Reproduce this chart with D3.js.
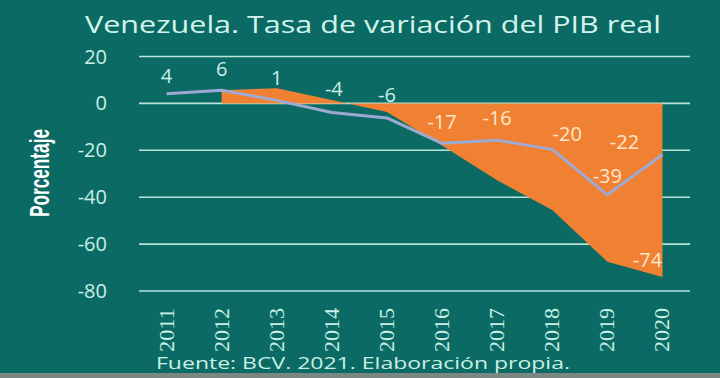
<!DOCTYPE html>
<html><head><meta charset="utf-8">
<script src="https://cdn.jsdelivr.net/npm/d3@7"></script>
<style>
html,body{margin:0;padding:0;background:#0b6b64;}
svg{display:block;}
</style></head>
<body>
<svg id="chart" width="720" height="378"></svg>
<script>
const years = ["2011","2012","2013","2014","2015","2016","2017","2018","2019","2020"];
const pibGrowth = [4.1, 5.6, 1.3, -3.9, -6.2, -17.0, -15.7, -19.6, -39.0, -21.8];
const growthLabels = ["4","6","1","-4","-6","-17","-16","-20","-39","-22"];
const areaYears = ["2012","2013","2014","2015","2016","2017","2018","2019","2020"];
const areaValues = [5.6, 6.5, 1.5, -3.7, -17.9, -32.8, -45.5, -67.5, -74.0];
const areaLabel = "-74";
const yTicks = [20, 0, -20, -40, -60, -80];

const svg = d3.select("#chart");
const W = 720, H = 378;
const bg = "#0b6b64", mint = "#c9efe6", orange = "#f08132", lineC = "#9eaad2";

svg.append("rect").attr("width", W).attr("height", H).attr("fill", bg);
svg.append("rect").attr("x", 0).attr("y", 373).attr("width", W).attr("height", 5).attr("fill", "#7b8785");

const x = d3.scaleBand().domain(years).range([139, 690]);
const y = d3.scaleLinear().domain([-80, 20]).range([291, 56.5]);
const cx = d => x(d) + x.bandwidth() / 2;

// gridlines
svg.append("g").selectAll("line").data(yTicks).join("line")
  .attr("x1", 139).attr("x2", 690)
  .attr("y1", d => y(d)).attr("y2", d => y(d))
  .attr("stroke", "#b9e3db").attr("stroke-width", 1.6);

// y tick labels
svg.append("g").selectAll("text").data(yTicks).join("text")
  .attr("x", 107).attr("y", d => y(d) + 7)
  .attr("text-anchor", "end")
  .attr("font-family", "'Open Sans', 'DejaVu Sans', sans-serif")
  .attr("font-size", 20).attr("fill", mint)
  .text(d => d);

// orange area
const areaData = areaYears.map((yr, i) => ({yr, v: areaValues[i]}));
svg.append("path").datum(areaData)
  .attr("fill", orange)
  .attr("d", d3.area().x(d => cx(d.yr)).y0(y(0)).y1(d => y(d.v)));

// line
const lineData = years.map((yr, i) => ({yr, v: pibGrowth[i]}));
svg.append("path").datum(lineData)
  .attr("fill", "none").attr("stroke", lineC).attr("stroke-width", 3)
  .attr("stroke-linejoin", "round")
  .attr("d", d3.line().x(d => cx(d.yr)).y(d => y(d.v)));

// data labels (offsets in px from point)
const labOff = [[0,-11],[0,-14],[0,-15],[2,-17],[0,-16],[0,-14],[0,-15],[15,-8],[0,-12],[-38,-6]];
const onOrange = [false,false,false,false,false,true,true,true,true,true];
svg.append("g").selectAll("text").data(lineData).join("text")
  .attr("x", (d,i) => cx(d.yr) + labOff[i][0])
  .attr("y", (d,i) => y(d.v) + labOff[i][1])
  .attr("text-anchor", "middle")
  .attr("font-family", "'Open Sans', 'DejaVu Sans', sans-serif")
  .attr("font-size", 20)
  .attr("fill", (d,i) => onOrange[i] ? "#fde6cc" : mint)
  .text((d,i) => growthLabels[i]);

const last = areaData[areaData.length - 1];
svg.append("text")
  .attr("x", cx(last.yr) - 15).attr("y", y(last.v) - 10)
  .attr("text-anchor", "middle")
  .attr("font-family", "'Open Sans', 'DejaVu Sans', sans-serif")
  .attr("font-size", 20).attr("fill", "#fde6cc")
  .text(areaLabel);

// x labels rotated
svg.append("g").selectAll("text").data(years).join("text")
  .attr("transform", d => `translate(${cx(d) + 7},308) rotate(-90)`)
  .attr("text-anchor", "end")
  .attr("font-family", "'Liberation Serif', 'DejaVu Serif', serif")
  .attr("font-size", 20).attr("fill", mint)
  .attr("textLength", 44).attr("lengthAdjust", "spacingAndGlyphs")
  .text(d => d);

// title
svg.append("text")
  .attr("x", 85).attr("y", 33)
  .attr("font-family", "'Open Sans', 'DejaVu Sans', sans-serif")
  .attr("font-size", 23).attr("fill", "#d3f3ec")
  .attr("textLength", 576).attr("lengthAdjust", "spacingAndGlyphs")
  .text("Venezuela. Tasa de variación del PIB real");

// y axis title
svg.append("text")
  .attr("transform", "translate(49,173) rotate(-90)")
  .attr("text-anchor", "middle")
  .attr("font-family", "'Liberation Sans Narrow', 'Liberation Sans', Arial, sans-serif")
  .attr("font-weight", "bold")
  .attr("font-size", 27).attr("fill", "#ffffff")
  .attr("textLength", 88).attr("lengthAdjust", "spacingAndGlyphs")
  .text("Porcentaje");

// source
svg.append("text")
  .attr("x", 156).attr("y", 369)
  .attr("font-family", "'Open Sans', 'DejaVu Sans', sans-serif")
  .attr("font-size", 16).attr("fill", mint)
  .attr("textLength", 414).attr("lengthAdjust", "spacingAndGlyphs")
  .text("Fuente: BCV. 2021. Elaboración propia.");
</script>
</body></html>
